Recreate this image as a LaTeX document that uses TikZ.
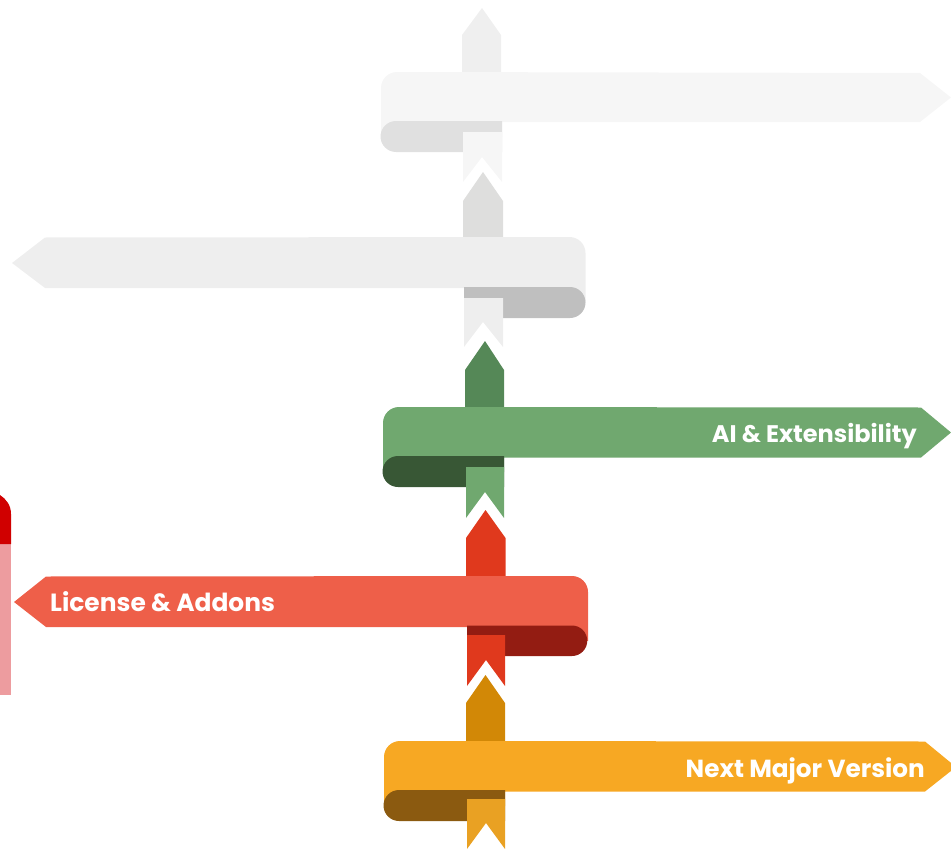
\documentclass[tikz,border=0pt]{standalone}
\usepackage{fontspec}
\setmainfont{Poppins}
\definecolor{aS}{HTML}{EFEFEF}\definecolor{aB}{HTML}{F6F6F6}\definecolor{aD}{HTML}{E0E0E0}
\definecolor{bS}{HTML}{DEDEDD}\definecolor{bB}{HTML}{EEEEEE}\definecolor{bD}{HTML}{BFBFBF}
\definecolor{cS}{HTML}{558857}\definecolor{cB}{HTML}{70A86F}\definecolor{cD}{HTML}{385735}
\definecolor{dS}{HTML}{E0391D}\definecolor{dB}{HTML}{EE5F49}\definecolor{dD}{HTML}{931C12}
\definecolor{eS}{HTML}{D28806}\definecolor{eB}{HTML}{F7A823}\definecolor{eD}{HTML}{8B5A10}\definecolor{eT}{HTML}{E9A123}
\definecolor{sideDark}{HTML}{D00000}\definecolor{sidePale}{HTML}{ED9C9F}
\tikzset{
  shape fill/.style={fill=#1,draw=none},
  label text/.style={text=white,font=\bfseries\fontsize{#1}{28}\selectfont,inner sep=0pt}
}
\begin{document}
\begin{tikzpicture}[x=1pt,y=-1pt]
\useasboundingbox (0,0) rectangle (951,851);
\clip (0,0) rectangle (951,851);
% left side panel
\fill[sidePale] (0,544) rectangle (11,695);
\fill[sideDark] (0,495) .. controls (6,499) and (11,505) .. (11,514) -- (11,544) -- (0,544) -- cycle;
% row 1
\path[shape fill=aS] (462,72) -- (462,35) -- (482,8) -- (501,35) -- (501,72) -- cycle;
\path[shape fill=aB] (381,137) -- (381,88) arc[start angle=180,end angle=270,radius=16] -- (920,73) -- (951,97.5) -- (920,122) -- (502,122) -- (502,137) -- cycle;
\path[shape fill=aD] (396,121) -- (502,121) -- (502,152) -- (396,152) arc[start angle=90,end angle=270,radius=15.5] -- cycle;
\path[shape fill=aB] (463,132) -- (502,132) -- (502,182) -- (482,157) -- (463,182) -- cycle;
% row 2
\path[shape fill=bS] (463,237) -- (463,201) -- (483,172) -- (503,201) -- (503,237) -- cycle;
\path[shape fill=bB] (585.5,302) -- (585.5,253) arc[start angle=0,end angle=-90,radius=16] -- (45,237.5) -- (12,263) -- (45,288) -- (464,288) -- (464,302) -- cycle;
\path[shape fill=bD] (570,287) -- (464,287) -- (464,318) -- (570,318) arc[start angle=90,end angle=-90,radius=15.5] -- cycle;
\path[shape fill=bB] (464,298) -- (503,298) -- (503,347) -- (483,322) -- (464,347) -- cycle;
% row 3
\path[shape fill=cS] (465,407) -- (465,370) -- (485,341) -- (504,370) -- (504,407) -- cycle;
\path[shape fill=cB] (383,472) -- (383,423) arc[start angle=180,end angle=270,radius=16] -- (921,407.5) -- (951,432.5) -- (921,457.5) -- (504,457.5) -- (504,472) -- cycle;
\path[shape fill=cD] (398,456) -- (504,456) -- (504,487) -- (398,487) arc[start angle=90,end angle=270,radius=15.5] -- cycle;
\path[shape fill=cB] (466,467) -- (504,467) -- (504,518) -- (485,492) -- (466,518) -- cycle;
% row 4
\path[shape fill=dS] (466,576) -- (466,538) -- (485.5,510) -- (505.5,538) -- (505.5,576) -- cycle;
\path[shape fill=dB] (588,641) -- (588,592) arc[start angle=0,end angle=-90,radius=16] -- (46,576.5) -- (14,602) -- (46,627) -- (467,627) -- (467,641) -- cycle;
\path[shape fill=dD] (572,625.5) -- (467,625.5) -- (467,656) -- (572,656) arc[start angle=90,end angle=-90,radius=15.25] -- cycle;
\path[shape fill=dS] (467,635) -- (505,635) -- (505,686) -- (486,660) -- (467,686) -- cycle;
% row 5
\path[shape fill=eS] (466,741) -- (466,703) -- (485.5,675) -- (505,703) -- (505,741) -- cycle;
\path[shape fill=eB] (384,806) -- (384,757) arc[start angle=180,end angle=270,radius=16] -- (925,741.5) -- (956,767) -- (925,791.5) -- (505,791.5) -- (505,806) -- cycle;
\path[shape fill=eD] (399,790) -- (505,790) -- (505,821) -- (399,821) arc[start angle=90,end angle=270,radius=15.5] -- cycle;
\path[shape fill=eT] (467,799) -- (505,799) -- (505,849) -- (486,823) -- (467,849) -- cycle;
% labels
\node[label text=24,anchor=base east] (ai) at (917,442) {AI \& Extensibility};
\node[label text=24.9,anchor=base west] (lic) at (50,611) {License \& Addons};
\node[label text=24.7,anchor=base east] (next) at (925,777) {Next Major Version};
\end{tikzpicture}
\end{document}
